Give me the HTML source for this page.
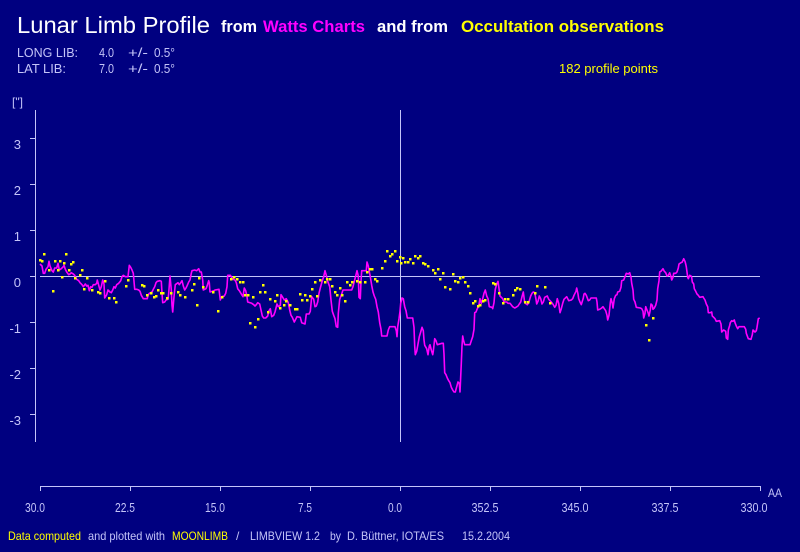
<!DOCTYPE html>
<html><head><meta charset="utf-8"><style>
html,body{margin:0;padding:0;background:#000080;}
svg{display:block;}
text{font-family:"Liberation Sans",sans-serif;}
</style></head><body>
<svg width="800" height="552" viewBox="0 0 800 552" xmlns="http://www.w3.org/2000/svg">
<rect width="800" height="552" fill="#000080"/>
<!-- Title -->
<text x="17" y="33" font-size="23" fill="#ffffff" textLength="193" lengthAdjust="spacingAndGlyphs">Lunar Limb Profile</text>
<text x="221" y="32" font-size="17" font-weight="bold" fill="#ffffff" textLength="36" lengthAdjust="spacingAndGlyphs">from</text>
<text x="263" y="32" font-size="17" fill="#ff00ff" font-weight="bold" textLength="102" lengthAdjust="spacingAndGlyphs">Watts Charts</text>
<text x="377" y="32" font-size="17" font-weight="bold" fill="#ffffff" textLength="71" lengthAdjust="spacingAndGlyphs">and from</text>
<text x="461" y="32" font-size="17" font-weight="bold" fill="#ffff00" textLength="203" lengthAdjust="spacingAndGlyphs">Occultation observations</text>
<!-- Lib info -->
<g font-size="13" fill="#c4c4f8">
<text x="17" y="57" textLength="61" lengthAdjust="spacingAndGlyphs">LONG LIB:</text>
<text x="99" y="57" textLength="15" lengthAdjust="spacingAndGlyphs">4.0</text>
<text x="128" y="57" textLength="20" lengthAdjust="spacingAndGlyphs">+/-</text>
<text x="154" y="57" textLength="21" lengthAdjust="spacingAndGlyphs">0.5°</text>
<text x="17" y="73" textLength="49" lengthAdjust="spacingAndGlyphs">LAT LIB:</text>
<text x="99" y="73" textLength="15" lengthAdjust="spacingAndGlyphs">7.0</text>
<text x="128" y="73" textLength="20" lengthAdjust="spacingAndGlyphs">+/-</text>
<text x="154" y="73" textLength="21" lengthAdjust="spacingAndGlyphs">0.5°</text>
</g>
<text x="559" y="73" font-size="13" fill="#ffff00" textLength="99" lengthAdjust="spacingAndGlyphs">182 profile points</text>
<text x="12" y="106" font-size="12" fill="#c4c4f8" textLength="11" lengthAdjust="spacingAndGlyphs">["]</text>
<!-- Axes -->
<g stroke="#c4c4f8" stroke-width="1" fill="none" shape-rendering="crispEdges">
<line x1="35.5" y1="110" x2="35.5" y2="442"/>
<line x1="30" y1="138.5" x2="35" y2="138.5"/>
<line x1="30" y1="184.5" x2="35" y2="184.5"/>
<line x1="30" y1="230.5" x2="35" y2="230.5"/>
<line x1="30" y1="276.5" x2="35" y2="276.5"/>
<line x1="30" y1="322.5" x2="35" y2="322.5"/>
<line x1="30" y1="368.5" x2="35" y2="368.5"/>
<line x1="30" y1="414.5" x2="35" y2="414.5"/>
<line x1="400.5" y1="110" x2="400.5" y2="442"/>
<line x1="40" y1="276.5" x2="760" y2="276.5"/>
<line x1="40" y1="486.5" x2="761" y2="486.5"/>
<line x1="40.5" y1="486" x2="40.5" y2="491"/>
<line x1="130.5" y1="486" x2="130.5" y2="491"/>
<line x1="220.5" y1="486" x2="220.5" y2="491"/>
<line x1="310.5" y1="486" x2="310.5" y2="491"/>
<line x1="400.5" y1="486" x2="400.5" y2="491"/>
<line x1="490.5" y1="486" x2="490.5" y2="491"/>
<line x1="580.5" y1="486" x2="580.5" y2="491"/>
<line x1="670.5" y1="486" x2="670.5" y2="491"/>
<line x1="760.5" y1="486" x2="760.5" y2="491"/>
</g>
<!-- Y labels -->
<g font-size="13" fill="#c4c4f8" text-anchor="end">
<text x="21" y="149">3</text>
<text x="21" y="195">2</text>
<text x="21" y="241">1</text>
<text x="21" y="287">0</text>
<text x="21" y="333">-1</text>
<text x="21" y="379">-2</text>
<text x="21" y="425">-3</text>
</g>
<!-- X labels -->
<g font-size="13" fill="#c4c4f8" text-anchor="middle">
<text x="35" y="512" textLength="20" lengthAdjust="spacingAndGlyphs">30.0</text>
<text x="125" y="512" textLength="20" lengthAdjust="spacingAndGlyphs">22.5</text>
<text x="215" y="512" textLength="20" lengthAdjust="spacingAndGlyphs">15.0</text>
<text x="305" y="512" textLength="14" lengthAdjust="spacingAndGlyphs">7.5</text>
<text x="395" y="512" textLength="14" lengthAdjust="spacingAndGlyphs">0.0</text>
<text x="485" y="512" textLength="27" lengthAdjust="spacingAndGlyphs">352.5</text>
<text x="575" y="512" textLength="27" lengthAdjust="spacingAndGlyphs">345.0</text>
<text x="665" y="512" textLength="27" lengthAdjust="spacingAndGlyphs">337.5</text>
<text x="754" y="512" textLength="27" lengthAdjust="spacingAndGlyphs">330.0</text>
</g>
<text x="768" y="497" font-size="12" fill="#c4c4f8" textLength="14" lengthAdjust="spacingAndGlyphs">AA</text>
<!-- Footer -->
<g font-size="12">
<text x="8" y="540" fill="#ffff00" textLength="73" lengthAdjust="spacingAndGlyphs">Data computed</text>
<text x="88" y="540" fill="#c4c4f8" textLength="77" lengthAdjust="spacingAndGlyphs">and  plotted with</text>
<text x="172" y="540" fill="#ffff00" textLength="56" lengthAdjust="spacingAndGlyphs">MOONLIMB</text>
<text x="236" y="540" fill="#c4c4f8">/</text>
<text x="250" y="540" fill="#c4c4f8" textLength="70" lengthAdjust="spacingAndGlyphs">LIMBVIEW 1.2</text>
<text x="330" y="540" fill="#c4c4f8" textLength="11" lengthAdjust="spacingAndGlyphs">by</text>
<text x="347" y="540" fill="#c4c4f8" textLength="97" lengthAdjust="spacingAndGlyphs">D. Büttner, IOTA/ES</text>
<text x="462" y="540" fill="#c4c4f8" textLength="48" lengthAdjust="spacingAndGlyphs">15.2.2004</text>
</g>
<!-- Watts profile -->
<polyline fill="none" stroke="#ff00ff" stroke-width="1.6" stroke-linejoin="round" points="40,264 42,266 43.3,273.3 44.7,273.3 46,269.3 48,266.7 49,261.3 50,266 52,270.7 53.3,272 54.7,268 56.7,268 58,263.3 59.3,270 61.3,268.7 63.3,266.7 64,265.3 65.3,269.3 66.7,272 68.7,274.7 70,274 71.3,272.7 73.3,274 74.7,275.3 76.7,279.3 78.7,280.7 80,282.7 82,284.7 83.3,286.7 85.3,284 86.7,286 88,285.3 89.3,290.7 90.7,286.7 92,287.3 93.3,284.7 95.3,284.7 96.7,283.3 97.3,280 98.7,285.3 100,290 101.3,286.7 102.7,280 104,284 104.7,298 106.7,294.7 108,290 110,292 111.3,292.7 112.7,290 114,286.7 115.3,288 116.7,284.7 118.7,283.3 120.7,280.7 122,276.7 123.3,275.3 125.3,276.7 128,276.7 129.3,265.3 130.7,267.3 132,270 133.3,273.3 134.7,289.3 136.7,289.3 138.7,290 140,291.3 141.3,295.3 143.3,298.7 147.3,298.7 148,295.3 149.3,293.3 152,292 153.3,289.3 154.7,286.7 156,282.7 157.3,281.3 160,280.7 161.3,281.3 162,293.3 162.7,302.7 164.7,302 166,300 168,299.3 168.7,293.3 170,276 171.3,290 172,305.3 172.7,312 174,296.7 175.3,284.7 178,282.7 179.3,284.7 180.7,282.7 182,280.7 183.3,286 184.7,290 186,288 187.3,285.3 188.7,282 190,280 191.3,273.3 192,270.7 194.7,270 196.7,270.7 198.7,268.7 200,272 201.3,272 202.7,280 203.3,290 206,288.7 207.3,285.3 208.7,280.7 209.3,282.7 210,292 214,290.7 215,290 219,289.3 220.3,300 221.7,296.7 224.3,296 225.7,293.3 227,286.7 227.7,275.3 230.3,275.3 233,279.3 235,280 236.3,282.7 237.7,288.7 239.7,291.3 241.7,294.7 243,296.7 244.3,288 245.7,290.7 247,296.7 247.7,302 251.7,303.3 253.7,304.7 255,306 256.3,304.7 257.7,302.7 259.7,304 261,310 262.3,316 263.7,318 265.7,318 267.7,316 269,310.7 270.3,308.7 271.7,316.7 273.7,315.3 275,312 277,304 278.3,306.7 280.3,305.3 281,294.7 282.3,296.7 284.3,300 286.3,298.7 288.3,302.7 289.7,310 291,315.3 292.3,317.3 294.3,322 295.7,319.3 297,316.7 300.3,317.3 301.7,322.7 305,324 306.3,314 309,314 310.3,311.3 311.7,296.7 313.7,299.3 315,306.7 316.3,306 317.7,302 319,293.3 320.3,288 322.3,280.7 323.7,276.7 325,270.7 326.3,275.3 327.7,281.3 329.7,286.7 331,300 332.3,311.3 333.7,315.3 335,318.7 336.3,326.7 337.7,327.3 338.3,313.3 339.7,299.3 341.7,294 343,290 351.7,290 353,286.7 354.3,281.3 355.7,276 357,270.7 358.3,276 359,297.3 360.3,298.7 361,281.3 361.7,270.7 366.3,270.7 367,262 368.3,266 369,270 370.3,276.7 371.7,285.3 373,292 374.3,296 375.7,299.3 377,306.7 378.3,312 379.7,322.7 381,329.3 381.7,336 387,336 388.3,330 389.7,326.7 395,326.7 396.3,330.7 397,336.7 397.7,326.7 399,318.7 400,311.3 400.7,303.3 402,298 403.3,298.7 404.7,306.7 406,310.7 407.3,318 412.7,318 414,327.3 414.7,346 415.3,354.7 416.7,351.3 418,344 419.3,336.7 420.7,332 422,327.3 423.3,330.7 424,340 424.7,345.3 426.7,348.7 428,354.7 429.3,346 430,344.7 431.3,350 432.7,354.7 433.3,351.3 434.7,338.7 436,340.7 437.3,344.7 442,343.3 443.3,343.3 444,354 444.7,372.7 446,374.7 447.3,378 448.7,380.7 450,382.7 451.3,387.3 452.7,390 454,392 455.3,392 456.7,386.7 458,382 459.3,383.3 460,392 461.3,363.3 462,346 462.7,336 463.3,339.3 464.7,344.7 470,344.7 471.3,340.7 472.7,336.7 474,329.3 474.7,312.7 476,312 477.3,308.7 478.7,306 480,298.7 481.3,303.3 482.7,298.7 484,293.3 485.3,290 486.7,296 488,298.7 489.3,306.7 492,307.3 492.7,308.7 494,302.7 494.7,294.7 495.3,289.3 496.7,284 498,281.3 499.3,290.7 500,296 502.7,298.7 504,302 506.7,302 508,303.3 510,303.3 512.7,306.7 514.7,308 516,307.3 518,306 519.3,304 520.7,302 522,296.7 523.3,292 524,297.3 524.7,302.7 527.3,304.7 528.7,302.7 530.7,296 532,293.3 533.3,292 534.7,292.7 536,299.3 536.7,304 538,301.3 539.3,296 540.7,298.7 542,304 543.3,302 544.7,297.3 547.3,296 548.7,299.3 551.3,302 553.3,304.7 554.7,307.3 556,305.3 557.3,298.7 558.7,303.3 560,312.7 561.3,308.7 562.7,303.3 564,299.3 566.7,296.7 568.7,300.7 571.3,300 572.7,298.7 574,295.3 576,291.3 576.7,288 578,294 578.7,298.7 580,302 581.3,304.7 583.3,298 584,294 585,293.3 586.3,295.3 588.3,300.7 589.7,300 591,298 596.3,298 597,302 597.7,310 599.7,309.3 601.7,308 603,306.7 604.3,308.7 605.7,310.7 607,315.3 607.7,320 609,315.3 610.3,302.7 611,298.7 612.3,303.3 613,308 614.3,298.7 615.7,295.3 617,294.7 617.7,292 619.7,291.3 621,287.3 621.7,280.7 623.7,280 625,276.7 626.3,273.3 628.3,274 629.7,272.7 631,277.3 631.7,283.3 633,290 633.7,299.3 635,302 636.3,307.3 640.3,308 641.7,308.7 643,311.3 643.7,318 645,313.3 645.7,306.7 647,310 648.3,313.3 649,316 650.3,310 651,304 652.3,305.3 653,309.3 654.3,308 655.7,305.3 657,300 657.7,288.7 659,280.7 659.7,272 661,271.3 663,268.7 664.3,271.3 665.7,272.7 667,276 668.3,275.3 669.7,272.7 671,276.7 671.7,280 673,277.3 673.7,273.3 675.7,273.3 677,272 678.3,268 679,264 681,262.7 682.3,262 683.7,258.7 685,261.3 685.7,264 686.3,266.7 687,272 687.7,277.3 688.3,278.7 689.7,275.3 691,276 691.7,277.3 692.3,282 693.7,284 694.3,288.7 695.7,291.3 697,294 698.3,295.3 699.7,297.3 703,296.7 703.7,298 705,300 706.3,304 707.7,306.7 708.3,312.7 710.3,312.7 711.7,312 712.3,316 713.7,317.3 715,318.7 716.3,321.3 719.7,320.7 721,324 721.7,332 723,330.7 723.7,330 725.7,331.3 726.3,338 727.7,339.3 728.3,330 729.7,325.3 730.3,322.7 731.7,320.7 733,321.3 734.3,320 735,322.7 736.3,326 737.7,328.7 739,326.7 744.3,326.7 745.7,329.3 746.3,333.3 748.3,338.7 751,339.3 752.3,334.7 753,330 755,332 756.3,330.7 757,327.3 757.7,322.7 758.3,318.7 759.7,318"/>
<!-- Occultation points -->
<g fill="#ffff00" id="dots"></g>
<script>
(function(){
var d="44,254 66,254 40,260 42,260.7 54.7,260.7 60,260.7 64,262.7 72.7,262 70.7,264 48.7,270 58,270 68.7,270 82,270 80,274.7 62,276.7 75.3,278 86.7,278 52.7,290.7 84,288.7 92,290 98,292 100,292.7 104.7,280.7 108.7,298 114,298 116,302 126,286 128,280 142,284.7 144,286 146.7,294.7 150.7,292.7 154,296.7 156,296 158,290 160.7,292.7 162.7,292.7 167.3,298 171.3,292.7 178,292 180,294.7 184.7,296.7 192,290 194,284 196.7,304.7 198.7,278 203.3,287.3 213.3,292 218.5,310.7 221.7,296.7 231,278.7 233.7,277.3 237,278.7 239.7,282 243,282 245,294.7 247.7,294.7 253,296.7 250.3,322.7 255,326.7 257.7,318.7 259.7,292 263,284.7 265,292 267.7,312 269.7,298.7 275,300.7 277,294.7 280.3,308 284.3,304.7 286.3,300.7 289.7,305.3 295,309.3 297,308.7 299.7,294 301.7,300 305,294.7 307,300 309.7,296 311.7,288.7 315,282 317,296 320.3,280 325,282 327,279.3 329.7,278.7 331.7,286 335,292 337,294.7 339.7,288 341.7,294.7 345,300.7 347,282 349.7,284.7 351.7,282 357,280.7 359.7,282 365,282 367,272 369.7,268.7 371.7,268.7 375,278.7 377,280.7 381.7,268 385,260.7 387,250.7 389.7,256 391.7,254 395,250.7 397,261.3 399.7,256.7 400.7,262.7 403,258 405.3,262 408,262 410,258.7 412.7,262.7 414.7,256 418,258 420,256 422.7,262.7 424.7,264 428,266 432.7,270 434.7,272.7 438,269.3 440,278.7 442.7,272.7 444.7,286.7 450,288.7 452.7,274 454.7,280.7 458,282 460,278 462.7,276.7 464.7,282 468,286 470,292.7 472.7,303.3 474.7,300.7 478,306 480,305.3 482.7,300.7 485.3,300 492.7,282.7 494.7,284 499.3,292.7 502.7,302.7 504.7,298.7 508,298.7 512.7,294.7 514.7,290 517.3,288 520,288.7 524.7,302 528,302 534.7,293.3 536.7,286 544.7,286.7 550,302.7 653,318 645.7,324.7 649,340";
var g=document.getElementById("dots"),ns="http://www.w3.org/2000/svg";
d.split(" ").forEach(function(p){var a=p.split(",");var r=document.createElementNS(ns,"rect");
r.setAttribute("x",Math.round(+a[0]-1.2));r.setAttribute("y",Math.round(+a[1]-1.2));r.setAttribute("width","2.5");r.setAttribute("height","2.5");g.appendChild(r);});
})();
</script>
</svg>
</body></html>
